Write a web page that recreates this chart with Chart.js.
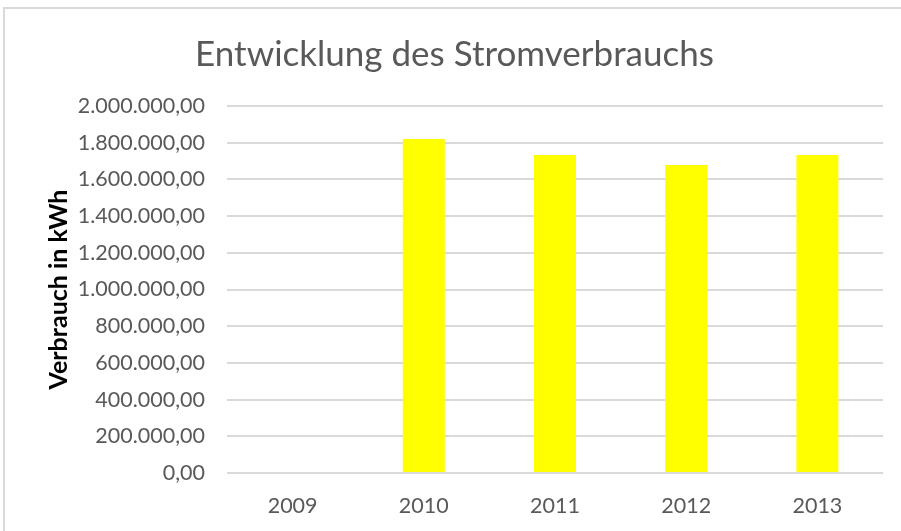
<!DOCTYPE html>
<html>
<head>
<meta charset="utf-8">
<script src="https://cdn.jsdelivr.net/npm/chart.js@4"></script>
<style>
  html, body { margin: 0; padding: 0; background: #fff; }
  #wrap { position: relative; width: 901px; height: 531px; overflow: hidden; }
  #frame { position: absolute; left: 3px; top: 7px; width: 910px; height: 540px;
           border-left: 2px solid #d9d9d9; border-top: 2px solid #d9d9d9; }
  canvas { position: absolute; left: 0; top: 0; }
</style>
</head>
<body>
<div id="wrap">
  <div id="frame"></div>
  <canvas id="chart" width="901" height="531"></canvas>
</div>
<script>
// Stromverbrauch pro Jahr (kWh)
const years = ['2009', '2010', '2011', '2012', '2013'];
const consumption = [0, 1820000, 1733000, 1678000, 1733000];
const yMax = 2000000;
const yStep = 200000;

const fmt = v => v.toLocaleString('de-DE', { minimumFractionDigits: 2, maximumFractionDigits: 2 });

const ctx = document.getElementById('chart').getContext('2d');
new Chart(ctx, {
  type: 'bar',
  data: {
    labels: years,
    datasets: [{
      label: 'Verbrauch',
      data: consumption,
      backgroundColor: '#ffff00',
      borderWidth: 0,
      barPercentage: 0.32,
      categoryPercentage: 1
    }]
  },
  options: {
    responsive: false,
    animation: false,
    // left padding pushes the title centre to the right like in the original
    layout: { padding: { left: 26, right: 18, top: 0, bottom: 0 } },
    plugins: {
      legend: { display: false },
      tooltip: { enabled: false },
      title: {
        display: true,
        text: 'Entwicklung des Stromverbrauchs',
        color: '#595959',
        font: { family: 'Lato', size: 35, weight: 'normal' },
        padding: { top: 34, bottom: 30 }
      }
    },
    scales: {
      x: {
        grid: { display: false, drawTicks: false },
        border: { display: false },
        ticks: { color: '#595959', font: { family: 'Lato', size: 21.5 }, padding: 20 },
        afterFit: s => { s.height = 58; }
      },
      y: {
        min: 0,
        max: yMax,
        grid: { color: '#d9d9d9', lineWidth: 2, drawTicks: false },
        border: { display: false },
        ticks: {
          stepSize: yStep,
          color: '#595959',
          font: { family: 'Lato', size: 21.5 },
          padding: 22,
          callback: v => fmt(v)
        },
        title: {
          display: true,
          text: 'Verbrauch in kWh',
          color: '#000',
          font: { family: 'Lato', size: 25, weight: 'bold' },
          padding: { top: 18, bottom: 0 }
        },
        afterFit: s => { s.width = 201; }
      }
    }
  }
});
</script>
</body>
</html>
